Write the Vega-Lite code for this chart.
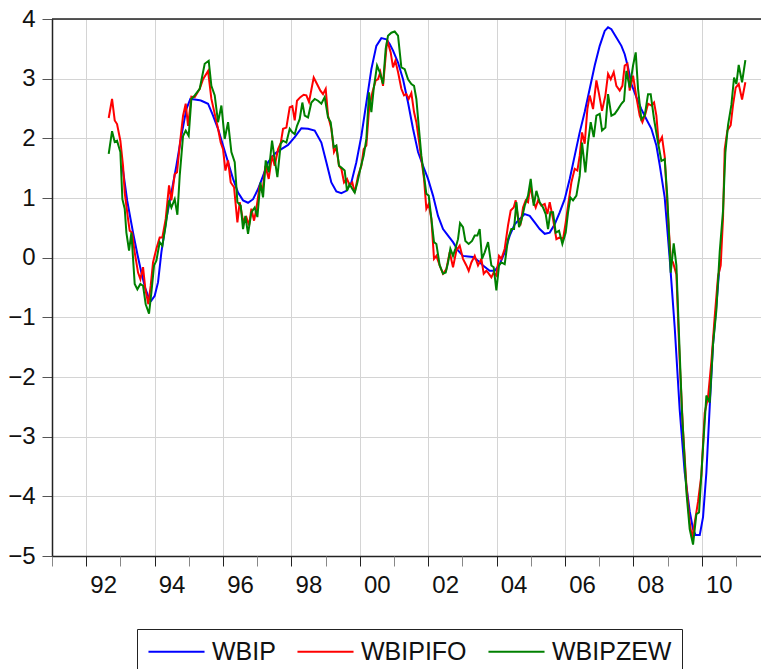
{
"$schema": "https://vega.github.io/schema/vega-lite/v6.json",
"autosize": {"type": "none"},
"padding": {"left": 52, "top": 19, "right": 0, "bottom": 113},
"width": 709,
"height": 537,
"config": {"font": "Liberation Sans", "view": {"stroke": null}},
"datasets": {
"WBIP": [
{"t":1993.058,"v":1.54},{"t":1993.2,"v":0.95},{"t":1993.37,"v":0.42},{"t":1993.5,"v":0.05},{"t":1993.613,"v":-0.25},{"t":1993.72,"v":-0.5},{"t":1993.808,"v":-0.64},{"t":1993.906,"v":-0.72},{"t":1994.003,"v":-0.64},{"t":1994.101,"v":-0.41},{"t":1994.198,"v":0.09},{"t":1994.344,"v":0.65},{"t":1994.491,"v":1.09},{"t":1994.637,"v":1.54},{"t":1994.783,"v":2.04},{"t":1994.929,"v":2.49},{"t":1995.046,"v":2.66},{"t":1995.173,"v":2.65},{"t":1995.319,"v":2.64},{"t":1995.368,"v":2.63},{"t":1995.563,"v":2.58},{"t":1995.709,"v":2.38},{"t":1995.855,"v":2.16},{"t":1996.001,"v":1.88},{"t":1996.148,"v":1.6},{"t":1996.294,"v":1.32},{"t":1996.44,"v":1.09},{"t":1996.586,"v":0.96},{"t":1996.732,"v":0.92},{"t":1996.879,"v":0.98},{"t":1997.025,"v":1.15},{"t":1997.171,"v":1.37},{"t":1997.317,"v":1.6},{"t":1997.512,"v":1.74},{"t":1997.707,"v":1.82},{"t":1997.902,"v":1.89},{"t":1998.097,"v":2.02},{"t":1998.291,"v":2.17},{"t":1998.486,"v":2.16},{"t":1998.681,"v":2.13},{"t":1998.876,"v":1.93},{"t":1999.022,"v":1.6},{"t":1999.168,"v":1.26},{"t":1999.315,"v":1.11},{"t":1999.461,"v":1.08},{"t":1999.607,"v":1.12},{"t":1999.753,"v":1.26},{"t":1999.899,"v":1.6},{"t":2000.046,"v":2.04},{"t":2000.192,"v":2.6},{"t":2000.338,"v":3.16},{"t":2000.484,"v":3.55},{"t":2000.63,"v":3.68},{"t":2000.777,"v":3.66},{"t":2000.874,"v":3.58},{"t":2000.972,"v":3.47},{"t":2001.118,"v":3.27},{"t":2001.264,"v":2.99},{"t":2001.41,"v":2.6},{"t":2001.556,"v":2.16},{"t":2001.703,"v":1.77},{"t":2001.849,"v":1.54},{"t":2001.995,"v":1.32},{"t":2002.141,"v":1.04},{"t":2002.287,"v":0.7},{"t":2002.434,"v":0.48},{"t":2002.58,"v":0.37},{"t":2002.726,"v":0.26},{"t":2002.872,"v":0.12},{"t":2003.018,"v":0.03},{"t":2003.165,"v":0.02},{"t":2003.311,"v":0.01},{"t":2003.457,"v":-0.05},{"t":2003.603,"v":-0.13},{"t":2003.798,"v":-0.22},{"t":2003.945,"v":-0.22},{"t":2004.091,"v":-0.11},{"t":2004.237,"v":0.09},{"t":2004.383,"v":0.37},{"t":2004.529,"v":0.56},{"t":2004.676,"v":0.65},{"t":2004.822,"v":0.73},{"t":2004.968,"v":0.7},{"t":2005.114,"v":0.59},{"t":2005.26,"v":0.48},{"t":2005.407,"v":0.4},{"t":2005.553,"v":0.42},{"t":2005.699,"v":0.56},{"t":2005.845,"v":0.76},{"t":2005.991,"v":0.98},{"t":2006.138,"v":1.32},{"t":2006.284,"v":1.71},{"t":2006.43,"v":2.1},{"t":2006.576,"v":2.44},{"t":2006.723,"v":2.83},{"t":2006.869,"v":3.22},{"t":2007.015,"v":3.55},{"t":2007.161,"v":3.8},{"t":2007.259,"v":3.86},{"t":2007.356,"v":3.83},{"t":2007.502,"v":3.69},{"t":2007.649,"v":3.55},{"t":2007.746,"v":3.41},{"t":2007.843,"v":3.19},{"t":2007.941,"v":2.91},{"t":2008.087,"v":2.69},{"t":2008.233,"v":2.49},{"t":2008.38,"v":2.32},{"t":2008.526,"v":2.16},{"t":2008.672,"v":1.88},{"t":2008.77,"v":1.55},{"t":2008.915,"v":1.01},{"t":2009.062,"v":-0.02},{"t":2009.208,"v":-1.17},{"t":2009.354,"v":-2.55},{"t":2009.5,"v":-3.6},{"t":2009.646,"v":-4.25},{"t":2009.744,"v":-4.55},{"t":2009.82,"v":-4.65},{"t":2009.94,"v":-4.65},{"t":2010.036,"v":-4.35},{"t":2010.134,"v":-3.6},{"t":2010.231,"v":-2.5},{"t":2010.329,"v":-1.45},{"t":2010.426,"v":-0.8},{"t":2010.524,"v":-0.1}
],
"WBIPIFO": [
{"t":1992.658,"v":2.34},{"t":1992.756,"v":2.66},{"t":1992.834,"v":2.3},{"t":1992.902,"v":2.24},{"t":1992.999,"v":1.96},{"t":1993.077,"v":1.54},{"t":1993.126,"v":1.09},{"t":1993.223,"v":0.65},{"t":1993.272,"v":0.45},{"t":1993.34,"v":0.42},{"t":1993.418,"v":0.09},{"t":1993.516,"v":-0.25},{"t":1993.584,"v":-0.36},{"t":1993.662,"v":-0.16},{"t":1993.73,"v":-0.53},{"t":1993.818,"v":-0.78},{"t":1993.886,"v":-0.47},{"t":1993.954,"v":-0.08},{"t":1994.052,"v":0.15},{"t":1994.149,"v":0.34},{"t":1994.227,"v":0.34},{"t":1994.325,"v":0.65},{"t":1994.422,"v":1.21},{"t":1994.491,"v":0.96},{"t":1994.588,"v":1.4},{"t":1994.656,"v":1.43},{"t":1994.734,"v":1.88},{"t":1994.832,"v":2.38},{"t":1994.91,"v":2.58},{"t":1994.978,"v":2.21},{"t":1995.075,"v":2.7},{"t":1995.173,"v":2.69},{"t":1995.319,"v":2.83},{"t":1995.417,"v":2.99},{"t":1995.563,"v":3.13},{"t":1995.66,"v":2.66},{"t":1995.758,"v":2.41},{"t":1995.855,"v":2.16},{"t":1995.933,"v":1.93},{"t":1996.001,"v":1.82},{"t":1996.07,"v":1.46},{"t":1996.148,"v":1.63},{"t":1996.226,"v":1.26},{"t":1996.323,"v":1.18},{"t":1996.421,"v":0.59},{"t":1996.489,"v":0.93},{"t":1996.586,"v":0.62},{"t":1996.684,"v":0.68},{"t":1996.762,"v":0.54},{"t":1996.83,"v":0.82},{"t":1996.908,"v":0.62},{"t":1996.976,"v":0.82},{"t":1997.074,"v":1.21},{"t":1997.152,"v":1.09},{"t":1997.239,"v":1.54},{"t":1997.337,"v":1.32},{"t":1997.434,"v":1.71},{"t":1997.512,"v":1.54},{"t":1997.61,"v":1.82},{"t":1997.688,"v":1.92},{"t":1997.756,"v":2.16},{"t":1997.853,"v":2.18},{"t":1997.951,"v":2.52},{"t":1998.028,"v":2.54},{"t":1998.097,"v":2.3},{"t":1998.164,"v":2.63},{"t":1998.262,"v":2.69},{"t":1998.359,"v":2.73},{"t":1998.437,"v":2.72},{"t":1998.515,"v":2.61},{"t":1998.652,"v":3.02},{"t":1998.749,"v":2.91},{"t":1998.847,"v":2.8},{"t":1998.925,"v":2.74},{"t":1999.003,"v":2.83},{"t":1999.071,"v":2.38},{"t":1999.168,"v":2.16},{"t":1999.246,"v":1.77},{"t":1999.315,"v":1.85},{"t":1999.392,"v":1.54},{"t":1999.461,"v":1.49},{"t":1999.539,"v":1.26},{"t":1999.626,"v":1.32},{"t":1999.704,"v":1.21},{"t":1999.782,"v":1.26},{"t":1999.851,"v":1.09},{"t":1999.948,"v":1.37},{"t":2000.046,"v":1.54},{"t":2000.114,"v":1.82},{"t":2000.192,"v":1.88},{"t":2000.27,"v":2.49},{"t":2000.367,"v":2.77},{"t":2000.465,"v":2.97},{"t":2000.533,"v":2.99},{"t":2000.601,"v":3.11},{"t":2000.679,"v":2.88},{"t":2000.8,"v":3.65},{"t":2000.903,"v":3.44},{"t":2000.972,"v":3.19},{"t":2001.04,"v":3.3},{"t":2001.118,"v":3.11},{"t":2001.215,"v":2.83},{"t":2001.293,"v":2.72},{"t":2001.362,"v":2.74},{"t":2001.43,"v":2.66},{"t":2001.508,"v":2.76},{"t":2001.586,"v":2.44},{"t":2001.654,"v":2.27},{"t":2001.722,"v":1.99},{"t":2001.8,"v":1.65},{"t":2001.878,"v":1.32},{"t":2001.946,"v":0.82},{"t":2002.015,"v":0.9},{"t":2002.093,"v":0.65},{"t":2002.17,"v":-0.02},{"t":2002.239,"v":0.03},{"t":2002.336,"v":-0.13},{"t":2002.434,"v":-0.27},{"t":2002.531,"v":-0.19},{"t":2002.629,"v":0.09},{"t":2002.726,"v":-0.16},{"t":2002.824,"v":0.12},{"t":2002.921,"v":0.2},{"t":2003.018,"v":-0.02},{"t":2003.116,"v":-0.13},{"t":2003.184,"v":-0.22},{"t":2003.262,"v":-0.08},{"t":2003.36,"v":0.03},{"t":2003.457,"v":-0.13},{"t":2003.555,"v":-0.02},{"t":2003.623,"v":-0.27},{"t":2003.7,"v":-0.22},{"t":2003.75,"v":-0.25},{"t":2003.847,"v":-0.33},{"t":2003.915,"v":-0.25},{"t":2003.993,"v":-0.3},{"t":2004.071,"v":0.03},{"t":2004.14,"v":-0.02},{"t":2004.237,"v":0.15},{"t":2004.334,"v":0.54},{"t":2004.412,"v":0.79},{"t":2004.5,"v":0.84},{"t":2004.559,"v":0.96},{"t":2004.627,"v":0.65},{"t":2004.695,"v":0.54},{"t":2004.773,"v":0.84},{"t":2004.851,"v":0.96},{"t":2004.919,"v":0.93},{"t":2004.987,"v":1.21},{"t":2005.065,"v":0.96},{"t":2005.143,"v":0.84},{"t":2005.212,"v":0.96},{"t":2005.309,"v":0.87},{"t":2005.407,"v":0.9},{"t":2005.485,"v":0.73},{"t":2005.553,"v":0.93},{"t":2005.65,"v":0.65},{"t":2005.748,"v":0.31},{"t":2005.845,"v":0.34},{"t":2005.943,"v":0.31},{"t":2006.021,"v":0.59},{"t":2006.089,"v":0.87},{"t":2006.186,"v":1.26},{"t":2006.284,"v":1.49},{"t":2006.362,"v":1.46},{"t":2006.43,"v":1.71},{"t":2006.498,"v":2.1},{"t":2006.576,"v":1.91},{"t":2006.654,"v":2.49},{"t":2006.723,"v":2.72},{"t":2006.82,"v":2.49},{"t":2006.918,"v":2.97},{"t":2006.996,"v":2.74},{"t":2007.083,"v":2.46},{"t":2007.181,"v":2.72},{"t":2007.259,"v":3.08},{"t":2007.337,"v":2.99},{"t":2007.424,"v":3.11},{"t":2007.502,"v":2.88},{"t":2007.6,"v":2.8},{"t":2007.678,"v":2.88},{"t":2007.746,"v":3.22},{"t":2007.824,"v":3.25},{"t":2007.892,"v":2.8},{"t":2007.99,"v":3.05},{"t":2008.087,"v":2.69},{"t":2008.185,"v":2.38},{"t":2008.263,"v":2.27},{"t":2008.35,"v":2.41},{"t":2008.428,"v":2.58},{"t":2008.526,"v":2.55},{"t":2008.604,"v":2.6},{"t":2008.672,"v":2.38},{"t":2008.74,"v":1.91},{"t":2008.837,"v":2.02},{"t":2008.915,"v":1.7},{"t":2008.993,"v":0.87},{"t":2009.091,"v":-0.02},{"t":2009.159,"v":-0.08},{"t":2009.257,"v":-0.28},{"t":2009.354,"v":-1.74},{"t":2009.451,"v":-2.89},{"t":2009.549,"v":-3.81},{"t":2009.646,"v":-4.44},{"t":2009.715,"v":-4.7},{"t":2009.793,"v":-4.44},{"t":2009.89,"v":-4.09},{"t":2009.988,"v":-3.64},{"t":2010.085,"v":-2.6},{"t":2010.182,"v":-2.34},{"t":2010.28,"v":-1.74},{"t":2010.377,"v":-0.99},{"t":2010.475,"v":-0.31},{"t":2010.553,"v":-0.13},{"t":2010.621,"v":0.67},{"t":2010.67,"v":1.82},{"t":2010.748,"v":2.13},{"t":2010.845,"v":2.22},{"t":2010.913,"v":2.56},{"t":2010.991,"v":2.85},{"t":2011.079,"v":2.91},{"t":2011.177,"v":2.65},{"t":2011.274,"v":2.94}
],
"WBIPZEW": [
{"t":1992.658,"v":1.74},{"t":1992.756,"v":2.12},{"t":1992.834,"v":1.94},{"t":1992.902,"v":1.96},{"t":1992.999,"v":1.77},{"t":1993.058,"v":0.98},{"t":1993.126,"v":0.82},{"t":1993.175,"v":0.42},{"t":1993.253,"v":0.12},{"t":1993.321,"v":0.42},{"t":1993.418,"v":-0.44},{"t":1993.496,"v":-0.53},{"t":1993.584,"v":-0.44},{"t":1993.662,"v":-0.47},{"t":1993.74,"v":-0.78},{"t":1993.837,"v":-0.94},{"t":1993.906,"v":-0.58},{"t":1993.984,"v":-0.13},{"t":1994.052,"v":-0.05},{"t":1994.149,"v":0.26},{"t":1994.227,"v":0.2},{"t":1994.325,"v":0.54},{"t":1994.422,"v":0.96},{"t":1994.491,"v":0.84},{"t":1994.588,"v":0.98},{"t":1994.666,"v":0.72},{"t":1994.734,"v":1.37},{"t":1994.832,"v":2.04},{"t":1994.91,"v":2.13},{"t":1994.997,"v":2.04},{"t":1995.075,"v":2.66},{"t":1995.173,"v":2.72},{"t":1995.319,"v":2.83},{"t":1995.465,"v":3.25},{"t":1995.582,"v":3.3},{"t":1995.66,"v":2.88},{"t":1995.758,"v":2.72},{"t":1995.855,"v":2.27},{"t":1995.953,"v":2.55},{"t":1996.05,"v":1.99},{"t":1996.148,"v":2.27},{"t":1996.245,"v":1.77},{"t":1996.343,"v":1.6},{"t":1996.421,"v":0.93},{"t":1996.518,"v":0.87},{"t":1996.586,"v":0.48},{"t":1996.654,"v":0.7},{"t":1996.732,"v":0.4},{"t":1996.83,"v":0.76},{"t":1996.927,"v":0.84},{"t":1997.005,"v":0.68},{"t":1997.093,"v":1.26},{"t":1997.171,"v":1.01},{"t":1997.249,"v":1.63},{"t":1997.337,"v":1.43},{"t":1997.434,"v":1.96},{"t":1997.512,"v":1.65},{"t":1997.59,"v":1.35},{"t":1997.688,"v":1.91},{"t":1997.756,"v":1.96},{"t":1997.853,"v":1.93},{"t":1997.951,"v":2.16},{"t":1998.028,"v":2.1},{"t":1998.097,"v":2.07},{"t":1998.164,"v":2.21},{"t":1998.242,"v":2.32},{"t":1998.32,"v":2.6},{"t":1998.389,"v":2.38},{"t":1998.486,"v":2.35},{"t":1998.584,"v":2.6},{"t":1998.681,"v":2.66},{"t":1998.778,"v":2.63},{"t":1998.876,"v":2.58},{"t":1998.973,"v":2.69},{"t":1999.071,"v":2.35},{"t":1999.149,"v":2.27},{"t":1999.237,"v":1.85},{"t":1999.315,"v":1.88},{"t":1999.392,"v":1.54},{"t":1999.461,"v":1.51},{"t":1999.558,"v":1.46},{"t":1999.626,"v":1.12},{"t":1999.704,"v":1.23},{"t":1999.782,"v":1.15},{"t":1999.851,"v":1.09},{"t":1999.929,"v":1.26},{"t":2000.016,"v":1.49},{"t":2000.114,"v":1.71},{"t":2000.192,"v":1.99},{"t":2000.27,"v":2.77},{"t":2000.338,"v":2.44},{"t":2000.406,"v":2.83},{"t":2000.504,"v":3.22},{"t":2000.582,"v":3.11},{"t":2000.679,"v":2.91},{"t":2000.757,"v":3.5},{"t":2000.825,"v":3.72},{"t":2000.923,"v":3.77},{"t":2001.02,"v":3.79},{"t":2001.118,"v":3.72},{"t":2001.215,"v":3.19},{"t":2001.313,"v":3.16},{"t":2001.41,"v":2.99},{"t":2001.508,"v":2.91},{"t":2001.586,"v":2.88},{"t":2001.654,"v":2.66},{"t":2001.722,"v":2.21},{"t":2001.8,"v":1.71},{"t":2001.878,"v":1.37},{"t":2001.946,"v":1.07},{"t":2002.015,"v":1.04},{"t":2002.093,"v":0.65},{"t":2002.17,"v":0.26},{"t":2002.239,"v":0.23},{"t":2002.336,"v":-0.13},{"t":2002.434,"v":-0.27},{"t":2002.512,"v":-0.25},{"t":2002.58,"v":-0.08},{"t":2002.648,"v":0.15},{"t":2002.726,"v":0.03},{"t":2002.794,"v":0.15},{"t":2002.872,"v":0.31},{"t":2002.931,"v":0.58},{"t":2003.018,"v":0.51},{"t":2003.087,"v":0.28},{"t":2003.184,"v":0.23},{"t":2003.282,"v":0.28},{"t":2003.36,"v":0.37},{"t":2003.438,"v":0.37},{"t":2003.506,"v":0.48},{"t":2003.574,"v":-0.02},{"t":2003.652,"v":0.09},{"t":2003.75,"v":0.26},{"t":2003.847,"v":-0.13},{"t":2003.915,"v":-0.16},{"t":2003.993,"v":-0.55},{"t":2004.071,"v":-0.13},{"t":2004.14,"v":-0.08},{"t":2004.237,"v":-0.11},{"t":2004.334,"v":0.31},{"t":2004.432,"v":0.48},{"t":2004.51,"v":0.48},{"t":2004.578,"v":0.93},{"t":2004.656,"v":0.51},{"t":2004.724,"v":0.62},{"t":2004.822,"v":0.87},{"t":2004.919,"v":1.04},{"t":2004.997,"v":1.32},{"t":2005.085,"v":0.87},{"t":2005.163,"v":1.12},{"t":2005.26,"v":0.93},{"t":2005.358,"v":0.84},{"t":2005.436,"v":0.73},{"t":2005.504,"v":0.48},{"t":2005.572,"v":0.76},{"t":2005.65,"v":0.76},{"t":2005.728,"v":0.42},{"t":2005.826,"v":0.45},{"t":2005.923,"v":0.23},{"t":2006.021,"v":0.42},{"t":2006.089,"v":0.76},{"t":2006.157,"v":1.01},{"t":2006.235,"v":0.96},{"t":2006.333,"v":1.04},{"t":2006.43,"v":1.37},{"t":2006.498,"v":1.93},{"t":2006.596,"v":1.43},{"t":2006.674,"v":1.93},{"t":2006.752,"v":2.27},{"t":2006.84,"v":2.02},{"t":2006.918,"v":2.38},{"t":2007.015,"v":2.41},{"t":2007.083,"v":2.13},{"t":2007.181,"v":2.18},{"t":2007.259,"v":2.74},{"t":2007.356,"v":2.38},{"t":2007.454,"v":2.41},{"t":2007.551,"v":2.49},{"t":2007.649,"v":2.58},{"t":2007.726,"v":2.63},{"t":2007.795,"v":3.13},{"t":2007.892,"v":2.85},{"t":2007.99,"v":3.22},{"t":2008.068,"v":3.44},{"t":2008.136,"v":2.83},{"t":2008.233,"v":2.32},{"t":2008.331,"v":2.38},{"t":2008.428,"v":2.74},{"t":2008.506,"v":2.74},{"t":2008.604,"v":2.32},{"t":2008.701,"v":1.99},{"t":2008.818,"v":1.62},{"t":2008.915,"v":1.65},{"t":2008.993,"v":1.01},{"t":2009.091,"v":-0.25},{"t":2009.179,"v":0.24},{"t":2009.257,"v":-0.13},{"t":2009.325,"v":-1.17},{"t":2009.422,"v":-2.6},{"t":2009.549,"v":-3.92},{"t":2009.646,"v":-4.55},{"t":2009.744,"v":-4.81},{"t":2009.841,"v":-4.3},{"t":2009.919,"v":-4.27},{"t":2010.036,"v":-3.18},{"t":2010.134,"v":-2.31},{"t":2010.231,"v":-2.43},{"t":2010.329,"v":-1.45},{"t":2010.426,"v":-0.88},{"t":2010.524,"v":0.1},{"t":2010.621,"v":0.79},{"t":2010.689,"v":1.76},{"t":2010.767,"v":2.22},{"t":2010.865,"v":2.56},{"t":2010.943,"v":3.02},{"t":2011.011,"v":2.91},{"t":2011.079,"v":3.23},{"t":2011.177,"v":2.94},{"t":2011.274,"v":3.31}
]
},
"resolve": {"axis": {"x": "independent"}},
"layer": [
{
"data": {"name": "WBIP"},
"mark": {"type": "line", "strokeWidth": 2, "clip": true},
"encoding": {
"x": {"field": "t", "type": "quantitative", "scale": {"domain": [1991, 2011.731], "nice": false, "zero": false},
"axis": {"title": null, "orient": "bottom", "values": [1992,1994,1996,1998,2000,2002,2004,2006,2008,2010],
"format": "d", "labelExpr": "substring(datum.label, 2, 4)",
"grid": true, "gridColor": "#d4d4d4", "gridWidth": 1,
"tickSize": 10, "tickWidth": 1, "tickColor": "#222222",
"labelOffset": 17, "labelFontSize": 24, "labelColor": "#111111", "labelPadding": 7,
"labelOverlap": false, "labelFlush": false, "labelBound": false,
"domainColor": "#222222", "domainWidth": 1.5}},
"y": {"field": "v", "type": "quantitative", "scale": {"domain": [-5, 4], "nice": false, "zero": false},
"axis": {"title": null, "values": [-5,-4,-3,-2,-1,0,1,2,3,4], "format": "d", "grid": true, "gridColor": "#d4d4d4", "gridWidth": 1,
"tickSize": 10, "tickColor": "#555555", "labelFontSize": 24, "labelColor": "#111111", "labelPadding": 7,
"domainColor": "#222222", "domainWidth": 1.5, "labelFlush": false, "labelOverlap": false}},
"color": {"datum": "WBIP", "type": "nominal",
"scale": {"domain": ["WBIP", "WBIPIFO", "WBIPZEW"], "range": ["#0000ff", "#ff0000", "#008000"]},
"legend": {"title": null, "orient": "none", "legendX": 85, "legendY": 610, "direction": "horizontal",
"strokeColor": "#222222", "fillColor": "white", "padding": 10, "symbolType": "M-2.67,0L2.67,0", "symbolSize": 441,
"symbolStrokeWidth": 2, "symbolOffset": 17, "labelFontSize": 25, "labelColor": "#111111", "labelOffset": 23, "columnPadding": 17}}
}
},
{
"data": {"name": "WBIPIFO"},
"mark": {"type": "line", "strokeWidth": 2, "clip": true},
"encoding": {
"x": {"field": "t", "type": "quantitative",
"axis": {"title": null, "orient": "bottom", "values": [1991,1993,1995,1997,1999,2001,2003,2005,2007,2009,2011],
"labels": false, "grid": false, "domain": false, "tickSize": 10, "tickWidth": 1, "tickColor": "#888888"}},
"y": {"field": "v", "type": "quantitative"},
"color": {"datum": "WBIPIFO", "type": "nominal"}
}
},
{
"data": {"name": "WBIPZEW"},
"mark": {"type": "line", "strokeWidth": 2, "clip": true},
"encoding": {
"x": {"field": "t", "type": "quantitative", "axis": null},
"y": {"field": "v", "type": "quantitative"},
"color": {"datum": "WBIPZEW", "type": "nominal"}
}
},
{
"data": {"values": [{"top": 4}]},
"mark": {"type": "rule", "color": "#222222", "strokeWidth": 1.5},
"encoding": {"y": {"field": "top", "type": "quantitative"}}
}
]
}
